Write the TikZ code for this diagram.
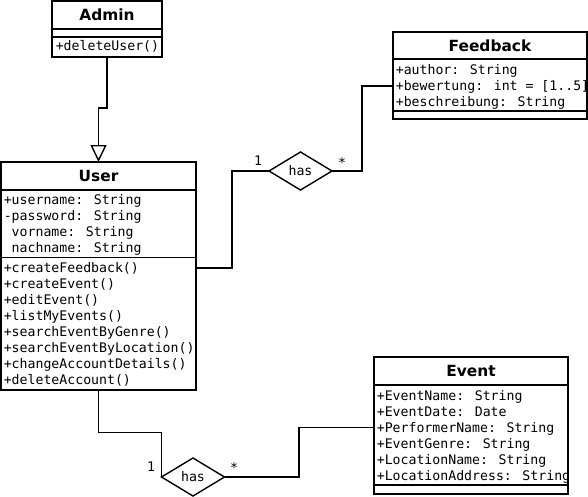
\documentclass[tikz,border=0pt]{standalone}
\usepackage{fontspec}
\setmainfont{DejaVu Sans}
\newfontfamily\monof{DejaVu Sans Mono}
\usetikzlibrary{shapes.geometric,arrows.meta}
\begin{document}
\begin{tikzpicture}[x=1pt,y=-1pt,line width=1.6pt,
  classbox/.style={draw,rectangle,anchor=north west,inner sep=0,outer sep=0},
  ctitle/.style={font=\bfseries\fontsize{15.4}{16}\selectfont,inner sep=0},
  member/.style={font=\monof\fontsize{13.2}{16}\selectfont,anchor=west,inner sep=0,text height=10pt,text depth=1pt},
  mult/.style={font=\monof\fontsize{13.2}{16}\selectfont,inner sep=0,text height=10pt,text depth=1pt},
  rel/.style={draw,diamond,inner sep=0,outer sep=0,minimum width=63pt,minimum height=38pt,line width=1.4pt,font=\monof\fontsize{13.2}{16}\selectfont},
  gen/.style={-{Triangle[open,length=17pt,width=16pt,line width=1.4pt]}},
  sep/.style={line width=1.6pt}
]
\useasboundingbox (0,0) rectangle (588,496);

% Admin
\node[classbox,minimum width=110pt,minimum height=56pt] (admin) at (52,1) {};
\node[ctitle] (admint) at (107,15) {Admin};
\draw[sep] (52,29) -- (162,29);
\draw[sep] (52,37) -- (162,37);
\node[member] (am1) at (55,45.5) {+deleteUser()};

% User
\node[classbox,minimum width=195pt,minimum height=228pt] (user) at (1,162) {};
\node[ctitle] (usert) at (98.5,176) {User};
\draw[sep] (1,190) -- (196,190);
\draw[sep] (1,257.5) -- (196,257.5);
\node[member] (ua1) at (3,199.5) {+username: String};
\node[member] (ua2) at (3,215.5) {-password: String};
\node[member] (ua3) at (3,231.5) {\ vorname: String};
\node[member] (ua4) at (3,247.5) {\ nachname: String};
\node[member] (um1) at (3,268) {+createFeedback()};
\node[member] (um2) at (3,284) {+createEvent()};
\node[member] (um3) at (3,300) {+editEvent()};
\node[member] (um4) at (3,316) {+listMyEvents()};
\node[member] (um5) at (3,332) {+searchEventByGenre()};
\node[member] (um6) at (3,348) {+searchEventByLocation()};
\node[member] (um7) at (3,364) {+changeAccountDetails()};
\node[member] (um8) at (3,380) {+deleteAccount()};

% Feedback
\node[classbox,minimum width=194pt,minimum height=87pt] (fb) at (393,32) {};
\node[ctitle] (fbt) at (490,45.5) {Feedback};
\draw[sep] (393,59) -- (587,59);
\draw[sep] (393,111) -- (587,111);
\node[member] (fa1) at (395,70) {+author: String};
\node[member] (fa2) at (395,86) {+bewertung: int = [1..5]};
\node[member] (fa3) at (395,102) {+beschreibung: String};

% Event
\node[classbox,minimum width=194pt,minimum height=137pt] (ev) at (374,357) {};
\node[ctitle] (evt) at (471,371) {Event};
\draw[sep] (374,385) -- (568,385);
\draw[sep] (374,485) -- (568,485);
\node[member] (ea1) at (376,395.5) {+EventName: String};
\node[member] (ea2) at (376,411.5) {+EventDate: Date};
\node[member] (ea3) at (376,427.5) {+PerformerName: String};
\node[member] (ea4) at (376,443.5) {+EventGenre: String};
\node[member] (ea5) at (376,459.5) {+LocationName: String};
\node[member] (ea6) at (376,475.5) {+LocationAddress: String};

% relations
\node[rel] (has1) at (300.5,171) {has};
\node[rel] (has2) at (193,477) {has};
\node[mult] (m1a) at (258,161) {1};
\node[mult] (m1b) at (342,163) {*};
\node[mult] (m2a) at (151,466.5) {1};
\node[mult] (m2b) at (234,468) {*};

% connectors
\draw[gen] (admin.south) -- ++(0,51) -| (user.north);
\draw (user.east |- um1) -- (232,268) |- (has1.west);
\draw (has1.east) -- (362,171) |- (fb.west |- fa2);
\draw (user.south) -- ++(0,42.5) -| (has2.west);
\draw (has2.east) -- (299,477) |- (ev.west |- ea3);
\end{tikzpicture}
\end{document}
